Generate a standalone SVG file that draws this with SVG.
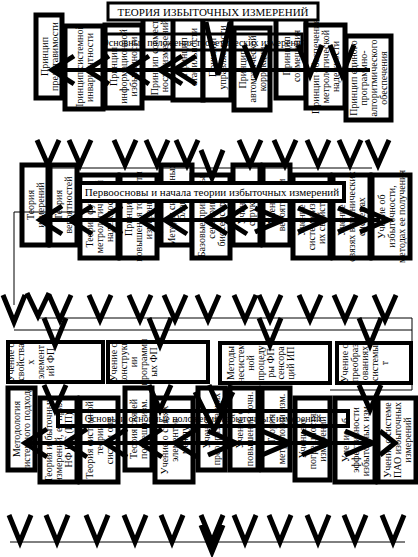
<svg xmlns="http://www.w3.org/2000/svg" width="418" height="557" viewBox="0 0 418 557">
<style>
.box{fill:#fff;stroke:#000;stroke-width:5}
.hb{fill:#fff;stroke:#000;stroke-width:4}
.t{font-family:"Liberation Serif",serif;font-size:10px;fill:#000}
.tt{font-family:"Liberation Serif",serif;font-size:11px;fill:#000}
.ch{fill:none;stroke:#000;stroke-width:5;stroke-linejoin:miter}
.th{fill:none;stroke:#000;stroke-width:1}
.sh{fill:none;stroke:#000;stroke-width:4}
</style>
<rect width="418" height="557" fill="#fff"/>

<!-- Row 1 -->
<g id="n1"><rect class="box" x="36" y="15" width="26" height="83"/><text class="t" transform="translate(49,56.5) rotate(-90)" text-anchor="middle"><tspan x="0" dy="-1.5">Принцип</tspan><tspan x="0" dy="10">представимости</tspan></text></g>
<g id="n2"><rect class="box" x="65" y="26" width="38" height="83"/><text class="t" transform="translate(84,67.5) rotate(-90)" text-anchor="middle"><tspan x="0" dy="-1.5">Принцип системной</tspan><tspan x="0" dy="10">инвариантности</tspan></text></g>
<g id="n3"><rect class="box" x="105" y="25" width="37" height="83"/><text class="t" transform="translate(123.5,66.5) rotate(-90)" text-anchor="middle"><tspan x="0" dy="-6.5">Принцип</tspan><tspan x="0" dy="10">информационной</tspan><tspan x="0" dy="10">избыточности</tspan></text></g>
<g id="n4"><rect class="box" x="143" y="14" width="33" height="84"/><text class="t" transform="translate(159.5,56) rotate(-90)" text-anchor="middle"><tspan x="0" dy="-1.5">Принцип совмест-</tspan><tspan x="0" dy="10">ности измерений</tspan></text></g>
<g id="n5"><rect class="box" x="173" y="14" width="30" height="86"/><text class="t" transform="translate(188,57) rotate(-90)" text-anchor="middle"><tspan x="0" dy="-1.5">Принцип</tspan><tspan x="0" dy="10">стабильности</tspan></text></g>
<g id="n6"><rect class="box" x="203" y="15" width="28" height="85"/><text class="t" transform="translate(217,57.5) rotate(-90)" text-anchor="middle"><tspan x="0" dy="-1.5">Принцип</tspan><tspan x="0" dy="10">управляемости</tspan></text></g>
<g id="n7"><rect class="box" x="234" y="28" width="36" height="82"/><text class="t" transform="translate(252,69) rotate(-90)" text-anchor="middle"><tspan x="0" dy="-6.5">Принцип</tspan><tspan x="0" dy="10">автоматической</tspan><tspan x="0" dy="10">коррекции</tspan></text></g>
<g id="n8"><rect class="box" x="276" y="14" width="30" height="84"/><text class="t" transform="translate(291,56) rotate(-90)" text-anchor="middle"><tspan x="0" dy="-1.5">Принцип</tspan><tspan x="0" dy="10">совмещения</tspan></text></g>
<g id="n9"><rect class="box" x="306" y="25" width="39" height="83"/><text class="t" transform="translate(325.5,66.5) rotate(-90)" text-anchor="middle"><tspan x="0" dy="-6.5">Принцип обеспечения</tspan><tspan x="0" dy="10">метрологической</tspan><tspan x="0" dy="10">надежности</tspan></text></g>
<g id="n10"><rect class="box" x="346" y="36" width="45" height="84"/><text class="t" transform="translate(368.5,78) rotate(-90)" text-anchor="middle"><tspan x="0" dy="-11.5">Принцип единого</tspan><tspan x="0" dy="10">программно-</tspan><tspan x="0" dy="10">алгоритмического</tspan><tspan x="0" dy="10">обеспечения</tspan></text></g>
<g id="h1"><rect x="106" y="34" width="196" height="16" fill="none" stroke="#000" stroke-width="3"/><text class="t" x="204" y="46" text-anchor="middle">Основные положения теоретических измерений</text></g>
<g id="title"><rect x="108" y="3" width="210" height="17" fill="#fff" stroke="#000" stroke-width="3"/><text class="tt" x="213" y="15.5" text-anchor="middle">ТЕОРИЯ ИЗБЫТОЧНЫХ ИЗМЕРЕНИЙ</text></g>

<!-- Row 2 -->
<g id="m1"><rect class="box" x="22" y="165" width="26" height="80"/><text class="t" transform="translate(35,205) rotate(-90)" text-anchor="middle"><tspan x="0" dy="-1.5">Теория</tspan><tspan x="0" dy="10">измерений</tspan></text></g>
<g id="m2"><rect class="box" x="50" y="165" width="27" height="80"/><text class="t" transform="translate(63.5,205) rotate(-90)" text-anchor="middle"><tspan x="0" dy="-1.5">Теория</tspan><tspan x="0" dy="10">вероятностей</tspan></text></g>
<g id="m3"><rect class="box" x="80" y="175" width="38" height="83"/><text class="t" transform="translate(99,216.5) rotate(-90)" text-anchor="middle"><tspan x="0" dy="-6.5">Теория функц.</tspan><tspan x="0" dy="10">метрологической</tspan><tspan x="0" dy="10">надежности</tspan></text></g>
<g id="m4"><rect class="box" x="120" y="175" width="37" height="83"/><text class="t" transform="translate(138.5,216.5) rotate(-90)" text-anchor="middle"><tspan x="0" dy="-6.5">Принцип</tspan><tspan x="0" dy="10">повышения точности</tspan><tspan x="0" dy="10">измерений</tspan></text></g>
<g id="m5"><rect class="box" x="161" y="165" width="31" height="80"/><text class="t" transform="translate(176.5,205) rotate(-90)" text-anchor="middle"><tspan x="0" dy="-1.5">Методы системных</tspan><tspan x="0" dy="10">блоков</tspan></text></g>
<g id="m6"><rect class="box" x="192" y="175" width="38" height="83"/><text class="t" transform="translate(211,216.5) rotate(-90)" text-anchor="middle"><tspan x="0" dy="-6.5">Базовые принципы</tspan><tspan x="0" dy="10">сенсорики</tspan><tspan x="0" dy="10">биосенсорики</tspan></text></g>
<g id="m7"><rect class="box" x="233" y="165" width="27" height="80"/><text class="t" transform="translate(246.5,205) rotate(-90)" text-anchor="middle"><tspan x="0" dy="-1.5">Учение о</tspan><tspan x="0" dy="10">структуре</tspan></text></g>
<g id="m8"><rect class="box" x="263" y="165" width="27" height="80"/><text class="t" transform="translate(276.5,205) rotate(-90)" text-anchor="middle"><tspan x="0" dy="-1.5">Учение о</tspan><tspan x="0" dy="10">вероятности</tspan></text></g>
<g id="m9"><rect class="box" x="293" y="175" width="37" height="83"/><text class="t" transform="translate(311.5,216.5) rotate(-90)" text-anchor="middle"><tspan x="0" dy="-6.5">Учение о</tspan><tspan x="0" dy="10">систематизации</tspan><tspan x="0" dy="10">их свойствах</tspan></text></g>
<g id="m10"><rect class="box" x="333" y="175" width="37" height="83"/><text class="t" transform="translate(351.5,216.5) rotate(-90)" text-anchor="middle"><tspan x="0" dy="-6.5">Учение о</tspan><tspan x="0" dy="10">связях в технических</tspan><tspan x="0" dy="10">системах</tspan></text></g>
<g id="m11"><rect class="box" x="372" y="175" width="38" height="83"/><text class="t" transform="translate(391,216.5) rotate(-90)" text-anchor="middle"><tspan x="0" dy="-6.5">Учение об</tspan><tspan x="0" dy="10">избыточности,</tspan><tspan x="0" dy="10">методах ее получения</tspan></text></g>
<g id="h2"><rect class="hb" x="80" y="183" width="264" height="18"/><text class="tt" x="212" y="196" text-anchor="middle">Первоосновы и начала теории избыточных измерений</text></g>

<!-- Row 3 -->
<g id="k1"><rect class="hb" x="8" y="342" width="95" height="40"/><text class="t" transform="translate(55.5,362) rotate(-90)" text-anchor="middle"><tspan x="0" dy="-41.5">Учение о</tspan><tspan x="0" dy="10">свойства</tspan><tspan x="0" dy="10">х</tspan><tspan x="0" dy="10">элемент</tspan><tspan x="0" dy="10">ий ФП</tspan></text></g>
<g id="k2"><rect class="hb" x="108" y="342" width="100" height="40"/><text class="t" transform="translate(158,362) rotate(-90)" text-anchor="middle"><tspan x="0" dy="-41.5">Учение о</tspan><tspan x="0" dy="10">конструкц</tspan><tspan x="0" dy="10">ии</tspan><tspan x="0" dy="10">программн</tspan><tspan x="0" dy="10">ых ФП</tspan></text></g>
<g id="k3"><rect class="hb" x="220" y="343" width="110" height="40"/><text class="t" transform="translate(275,363) rotate(-90)" text-anchor="middle"><tspan x="0" dy="-41.5">Методы</tspan><tspan x="0" dy="10">несистем</tspan><tspan x="0" dy="10">ной</tspan><tspan x="0" dy="10">процеду</tspan><tspan x="0" dy="10">ры ФП</tspan><tspan x="0" dy="10">сенсора</tspan><tspan x="0" dy="10">ций ИП</tspan></text></g>
<g id="k4"><rect class="hb" x="337" y="343" width="74" height="40"/><text class="t" transform="translate(374,363) rotate(-90)" text-anchor="middle"><tspan x="0" dy="-26.5">Учение о</tspan><tspan x="0" dy="10">преобраз</tspan><tspan x="0" dy="10">ованиях</tspan><tspan x="0" dy="10">системы</tspan><tspan x="0" dy="10">т</tspan></text></g>

<!-- Row 4 -->
<g id="p1"><rect class="box" x="8" y="388" width="27" height="82"/><text class="t" transform="translate(21.5,429) rotate(-90)" text-anchor="middle"><tspan x="0" dy="-1.5">Методология</tspan><tspan x="0" dy="10">системного подхода</tspan></text></g>
<g id="p2"><rect class="box" x="40" y="398" width="37" height="84"/><text class="t" transform="translate(58.5,440) rotate(-90)" text-anchor="middle"><tspan x="0" dy="-6.5">Теория избыточных</tspan><tspan x="0" dy="10">измерений, ее прил.</tspan><tspan x="0" dy="10">НФ ПС (ИП)</tspan></text></g>
<g id="p3"><rect class="box" x="80" y="398" width="38" height="84"/><text class="t" transform="translate(99,440) rotate(-90)" text-anchor="middle"><tspan x="0" dy="-6.5">Теория системной</tspan><tspan x="0" dy="10">теории</tspan><tspan x="0" dy="10">систем опт.</tspan></text></g>
<g id="p4"><rect class="box" x="125" y="388" width="27" height="82"/><text class="t" transform="translate(138.5,429) rotate(-90)" text-anchor="middle"><tspan x="0" dy="-1.5">Теория связей</tspan><tspan x="0" dy="10">погрешн. изм.</tspan></text></g>
<g id="p5"><rect class="box" x="155" y="398" width="38" height="84"/><text class="t" transform="translate(174,440) rotate(-90)" text-anchor="middle"><tspan x="0" dy="-6.5">Учение о связях</tspan><tspan x="0" dy="10">элементов</tspan><tspan x="0" dy="10">между</tspan></text></g>
<g id="p6"><rect class="box" x="198" y="388" width="27" height="82"/><text class="t" transform="translate(211.5,429) rotate(-90)" text-anchor="middle"><tspan x="0" dy="-1.5">Учение о</tspan><tspan x="0" dy="10">преобразованиях</tspan></text></g>
<g id="p7"><rect class="box" x="230" y="388" width="28" height="82"/><text class="t" transform="translate(244,429) rotate(-90)" text-anchor="middle"><tspan x="0" dy="-1.5">Учение о</tspan><tspan x="0" dy="10">повышении точн.</tspan></text></g>
<g id="p8"><rect class="box" x="262" y="388" width="28" height="82"/><text class="t" transform="translate(276,429) rotate(-90)" text-anchor="middle"><tspan x="0" dy="-1.5">Теория</tspan><tspan x="0" dy="10">метрологии изм.</tspan></text></g>
<g id="p9"><rect class="box" x="295" y="398" width="35" height="82"/><text class="t" transform="translate(312.5,439) rotate(-90)" text-anchor="middle"><tspan x="0" dy="-6.5">Учение о</tspan><tspan x="0" dy="10">погрешностях</tspan><tspan x="0" dy="10">измерений</tspan></text></g>
<g id="p10"><rect class="box" x="335" y="398" width="40" height="84"/><text class="t" transform="translate(355,440) rotate(-90)" text-anchor="middle"><tspan x="0" dy="-6.5">Учение об</tspan><tspan x="0" dy="10">эффективности</tspan><tspan x="0" dy="10">избыточных изм.</tspan></text></g>
<g id="p11"><rect class="box" x="378" y="398" width="38" height="84"/><text class="t" transform="translate(397,440) rotate(-90)" text-anchor="middle"><tspan x="0" dy="-6.5">Учение о системе</tspan><tspan x="0" dy="10">ПАО избыточных</tspan><tspan x="0" dy="10">измерений</tspan></text></g>
<g id="h3"><rect x="58" y="411" width="290" height="15" fill="none" stroke="#000" stroke-width="4"/><text class="t" x="203" y="422" text-anchor="middle">Основы и основные положения избыточных измерений</text></g>

<g id="connectors">
<!-- row 1 arrows -->
<path class="sh" d="M52,70 H370"/>
<path class="ch" d="M74,56 L52,70 L74,84 M109,56 L87,70 L109,84 M149,56 L127,70 L149,84 M182,56 L160,70 L182,84 M196,56 L174,70 L196,84"/>
<path class="ch" d="M206,22 L218,75 L230,22 M244,45 L256,75 L268,45 M298,45 L310,75 L322,45 M330,45 L342,75 L354,45"/>
<!-- row 2 chevrons -->
<path class="ch" d="M37,140 L48,165 L59,140 M69,140 L80,165 L91,140 M114,140 L125,165 L136,140 M146,140 L157,165 L168,140 M176,140 L187,165 L198,140 M201,150 L212,178 L223,150 M239,140 L250,165 L261,140 M274,140 L285,165 L296,140 M307,140 L318,165 L329,140 M339,140 L350,165 L361,140 M367,140 L378,165 L389,140"/>
<path class="th" d="M48,168 H372"/>
<!-- row 2 arrows -->
<path class="sh" d="M40,220 H380"/>
<path class="ch" d="M62,206 L40,220 L62,234 M92,206 L70,220 L92,234 M122,206 L100,220 L122,234 M162,206 L140,220 L162,234 M187,206 L165,220 L187,234 M227,206 L205,220 L227,234 M247,206 L225,220 L247,234"/>
<path class="ch" d="M255,208 L283,220 L255,232 M298,208 L326,220 L298,232 M338,208 L366,220 L338,232 M360,208 L388,220 L360,232"/>
<path class="th" d="M14,212 H96 M14,212 V305"/>
<!-- row 3 chevrons -->
<path class="ch" d="M3,295 L14,322 L25,295 M27,293 L38,316 L49,293 M49,295 L60,320 L71,295 M89,295 L100,320 L111,295 M129,295 L140,320 L151,295 M164,295 L175,320 L186,295 M197,295 L208,320 L219,295 M234,295 L245,320 L256,295 M259,295 L270,320 L281,295 M299,295 L310,320 L321,295 M334,295 L345,320 L356,295 M374,295 L385,320 L396,295"/>
<path class="ch" d="M44,318 L55,345 L66,318 M149,318 L160,345 L171,318 M259,318 L270,345 L281,318 M359,318 L370,345 L381,318"/>
<path class="th" d="M38,318 H412 M14,330 H412 M412,318 V390 H330"/>
<path class="ch" d="M44,385 L55,410 L66,385 M149,385 L160,410 L171,385 M209,385 L220,410 L231,385 M359,385 L370,410 L381,385 M195,392 L214,430 L233,392"/>
<!-- row 4 arrows -->
<path class="sh" d="M25,443 H380"/>
<path class="ch" d="M47,429 L25,443 L47,457 M87,429 L65,443 L87,457 M127,429 L105,443 L127,457 M162,429 L140,443 L162,457 M197,429 L175,443 L197,457"/>
<path class="ch" d="M208,431 L236,443 L208,455 M262,431 L290,443 L262,455 M302,431 L330,443 L302,455 M345,431 L373,443 L345,455 M380,431 L395,443 L380,455"/>
<!-- bottom chevrons -->
<path class="ch" d="M9,515 L20,542 L31,515 M46,515 L57,542 L68,515 M86,515 L97,542 L108,515 M124,515 L135,542 L146,515 M161,515 L172,542 L183,515 M201,515 L212,542 L223,515 M201,525 L212,552 L223,525 M234,515 L245,542 L256,515 M269,515 L280,542 L291,515 M307,515 L318,542 L329,515 M344,515 L355,542 L366,515 M382,515 L393,542 L404,515"/>
<path class="th" d="M10,542 H405"/>
</g>
</svg>
